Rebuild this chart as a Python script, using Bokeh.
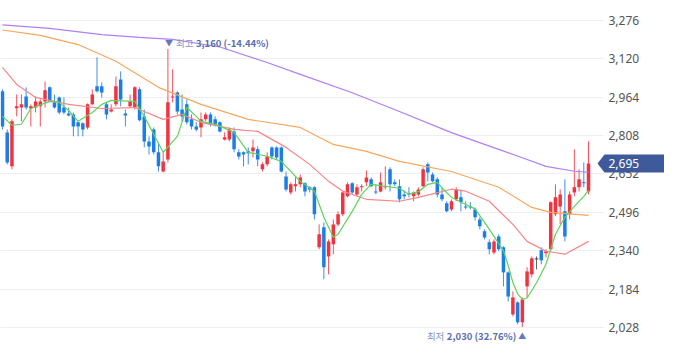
from bokeh.plotting import figure
from bokeh.models import (FixedTicker, NumeralTickFormatter, Label, PolyAnnotation, Range1d,
                          ColumnDataSource, BoxAnnotation)
from bokeh.embed import file_html
from bokeh.resources import INLINE

# ---- data ----
opens = [2988, 2821, 2683, 2919, 2922, 2967, 2918, 2922, 2927, 2947,
         3004, 2943, 2963, 2922, 2898, 2894, 2862, 2858, 2841, 2935,
         3008, 3008, 2935, 2906, 2935, 3036, 2898, 2927, 2922, 2996,
         2886, 2784, 2833, 2740, 2662, 2711, 2963, 2983, 2914, 2935,
         2874, 2845, 2841, 2874, 2894, 2874, 2862, 2792, 2792, 2825,
         2740, 2740, 2744, 2744, 2752, 2671, 2691, 2760, 2760, 2760,
         2642, 2577, 2602, 2610, 2614, 2598, 2598, 2354, 2435, 2317,
         2366, 2447, 2488, 2561, 2614, 2569, 2598, 2618, 2630, 2581,
         2581, 2598, 2671, 2618, 2602, 2569, 2573, 2561, 2569, 2602,
         2691, 2650, 2630, 2569, 2533, 2508, 2549, 2557, 2520, 2520,
         2508, 2467, 2419, 2374, 2333, 2398, 2354, 2252, 2081, 2130,
         2049, 2195, 2244, 2305, 2342, 2330, 2346, 2488, 2520, 2500,
         2488, 2577, 2598, 2618, 2581]
highs = [2996, 2833, 2874, 2975, 2975, 3004, 2935, 2967, 2955, 3028,
         3008, 2975, 2967, 2963, 2922, 2902, 2866, 2862, 2939, 2996,
         3126, 3024, 2943, 2935, 3048, 3069, 2914, 2975, 3008, 3004,
         2914, 2805, 2841, 2780, 2744, 3160, 3077, 2988, 2975, 2955,
         2894, 2862, 2902, 2902, 2902, 2886, 2866, 2821, 2841, 2841,
         2752, 2744, 2760, 2792, 2764, 2699, 2740, 2764, 2764, 2764,
         2662, 2618, 2642, 2650, 2618, 2602, 2602, 2447, 2455, 2386,
         2467, 2500, 2581, 2618, 2618, 2610, 2610, 2667, 2638, 2610,
         2658, 2683, 2679, 2630, 2630, 2585, 2598, 2581, 2598, 2679,
         2699, 2658, 2638, 2598, 2541, 2549, 2598, 2589, 2541, 2537,
         2516, 2476, 2427, 2386, 2386, 2407, 2358, 2256, 2175, 2134,
         2150, 2273, 2317, 2317, 2354, 2346, 2541, 2610, 2589, 2630,
         2581, 2752, 2671, 2699, 2784]
lows = [2833, 2691, 2671, 2886, 2866, 2914, 2845, 2902, 2845, 2922,
        2943, 2918, 2894, 2894, 2886, 2805, 2805, 2805, 2833, 2931,
        2983, 2963, 2874, 2902, 2927, 2927, 2845, 2922, 2914, 2866,
        2760, 2731, 2731, 2662, 2658, 2699, 2943, 2894, 2866, 2853,
        2833, 2825, 2801, 2866, 2845, 2845, 2821, 2788, 2784, 2740,
        2711, 2683, 2691, 2719, 2683, 2662, 2683, 2711, 2711, 2658,
        2581, 2569, 2581, 2598, 2561, 2577, 2467, 2346, 2224, 2244,
        2325, 2439, 2480, 2557, 2569, 2561, 2581, 2602, 2598, 2569,
        2577, 2589, 2581, 2602, 2537, 2549, 2557, 2541, 2561, 2598,
        2622, 2618, 2557, 2541, 2496, 2500, 2541, 2500, 2508, 2508,
        2463, 2427, 2386, 2325, 2325, 2338, 2195, 2134, 2073, 2041,
        2030, 2150, 2232, 2264, 2285, 2313, 2338, 2480, 2447, 2378,
        2467, 2561, 2581, 2598, 2569]
closes = [2845, 2699, 2866, 2927, 2935, 2922, 2927, 2947, 2947, 2992,
          2947, 2922, 2902, 2902, 2890, 2845, 2845, 2833, 2935, 2975,
          2988, 2983, 2894, 2914, 3008, 2955, 2890, 2947, 3004, 2870,
          2784, 2764, 2740, 2683, 2703, 2943, 2967, 2906, 2886, 2862,
          2845, 2833, 2874, 2894, 2853, 2853, 2825, 2801, 2833, 2752,
          2723, 2731, 2736, 2760, 2711, 2691, 2723, 2723, 2719, 2662,
          2589, 2610, 2610, 2638, 2581, 2589, 2488, 2407, 2273, 2378,
          2447, 2488, 2577, 2610, 2577, 2598, 2602, 2638, 2602, 2577,
          2618, 2602, 2610, 2610, 2549, 2561, 2569, 2577, 2589, 2671,
          2658, 2622, 2569, 2549, 2500, 2541, 2589, 2537, 2516, 2516,
          2476, 2439, 2394, 2346, 2378, 2346, 2252, 2154, 2150, 2049,
          2142, 2256, 2309, 2305, 2301, 2338, 2537, 2557, 2569, 2398,
          2569, 2598, 2630, 2614, 2695]

ma5_idx = [0, 2, 4, 6, 10, 12, 14, 16, 19, 21, 23, 28, 30, 34, 37, 39, 41, 42, 45, 49,
           52, 56, 59, 63, 66, 68, 70, 71, 74, 76, 78, 81, 84, 86, 88, 90, 92, 93, 95, 97,
           100, 102, 104, 106, 107, 108, 109, 110, 111, 113, 115, 117, 119, 121, 123, 124]
ma5_val = [2886, 2850, 2854, 2918, 2947, 2943, 2910, 2866, 2902, 2935, 2951, 2947, 2886, 2740,
           2805, 2922, 2886, 2866, 2854, 2821, 2740, 2724, 2703, 2622, 2582, 2476, 2395, 2407,
           2500, 2569, 2610, 2602, 2594, 2569, 2580, 2610, 2618, 2595, 2557, 2537, 2510, 2455,
           2398, 2340, 2280, 2210, 2165, 2142, 2148, 2210, 2285, 2407, 2476, 2520, 2561, 2585]
ma20_idx = [0, 3, 7, 14, 21, 28, 34, 38, 42, 49, 54, 60, 65, 69, 72, 77, 84, 88, 95, 98,
            103, 108, 111, 115, 119, 124]
ma20_val = [3085, 3016, 2963, 2935, 2918, 2922, 2874, 2894, 2862, 2833, 2825, 2760, 2691,
            2622, 2582, 2549, 2541, 2557, 2590, 2582, 2541, 2447, 2378, 2338, 2326, 2378]
ma60_idx = [0, 8, 16, 24, 33, 42, 52, 63, 70, 77, 84, 95, 105, 112, 116, 124]
ma60_val = [3237, 3215, 3178, 3110, 3004, 2935, 2874, 2841, 2772, 2744, 2703, 2662, 2598,
            2516, 2496, 2484]
ma120_idx = [0, 10, 21, 29, 36, 46, 56, 63, 74, 84, 95, 102, 105, 110, 115, 121, 124]
ma120_val = [3258, 3244, 3218, 3207, 3199, 3168, 3105, 3057, 2982, 2906, 2820, 2772, 2752,
             2718, 2683, 2663, 2659]

y_ticks = [2028, 2184, 2340, 2496, 2652, 2808, 2964, 3120, 3276]
max_label = "최고"
max_text = "3,160 (-14.44%)"
min_label = "최저"
min_text = "2,030 (32.76%)"

# ---- layout ----
W, H = 664, 342
PLOT_W = 603                 # width of the candle area inside the frame
PX = 4.726                   # px per candle slot
X0 = -0.423
X1 = X0 + W / PX
Y0, Y1 = 1967, 3357
ux = 1.0 / PX                # data units per px (x)
uy = (Y1 - Y0) / H           # data units per px (y)
XA = X0 + PLOT_W * ux        # right edge of candle area

RED = "#f2323f"
BLUE = "#1b7de6"
GRAY = "#444444"

p = figure(width=W, height=H, output_backend="svg", toolbar_location=None,
           x_range=Range1d(X0, X1), y_range=Range1d(Y0, Y1),
           x_axis_location=None, y_axis_location="right",
           min_border_left=0, min_border_top=0, min_border_bottom=0,
           min_border_right=0, background_fill_color="white",
           border_fill_color="white")
p.outline_line_color = None
p.xgrid.visible = False
p.ygrid.ticker = FixedTicker(ticks=y_ticks)
p.ygrid.grid_line_color = "#eeeff4"
p.ygrid.grid_line_width = 1

ax = p.yaxis[0]
ax.ticker = FixedTicker(ticks=y_ticks)
ax.formatter = NumeralTickFormatter(format="0,0")
ax.axis_line_color = None
ax.major_tick_line_color = None
ax.minor_tick_line_color = None
ax.major_tick_out = 0
ax.major_tick_in = 0
ax.major_label_standoff = -(W - PLOT_W - 5)
ax.major_label_text_font = "Noto Sans"
ax.major_label_text_font_size = "12px"
ax.major_label_text_color = "#555555"

# hide grid lines in the label column
p.add_layout(BoxAnnotation(left=XA, fill_color="white", fill_alpha=1.0, line_color=None,
                           level="underlay"))

# ---- candles ----
idx = list(range(len(opens)))
colors = [RED if c > o else (BLUE if c < o else GRAY) for o, c in zip(opens, closes)]
bots = [min(o, c) for o, c in zip(opens, closes)]
tops = [max(max(o, c), min(o, c) + uy) for o, c in zip(opens, closes)]
src = ColumnDataSource(dict(x=idx, h=highs, l=lows, top=tops, bot=bots, color=colors))
p.segment("x", "h", "x", "l", source=src, line_color="color", line_width=1, line_alpha=0.85)
p.vbar("x", 0.74, "top", "bot", source=src, fill_color="color", line_color=None)

# ---- moving averages ----
p.line(ma120_idx, ma120_val, line_color="#b17ef3", line_width=1.2)
p.line(ma60_idx, ma60_val, line_color="#f8a75e", line_width=1.2)
p.line(ma20_idx, ma20_val, line_color="#f68787", line_width=1.2)
p.line(ma5_idx, ma5_val, line_color="#5fd35a", line_width=1.2)

# ---- max / min annotations ----
imax = highs.index(max(highs))
imin = lows.index(min(lows))
LIGHT = "#8796c6"
DARK = "#5b6ead"
KF = "Noto Sans CJK KR"

p.add_layout(Label(x=imax, y=highs[imax], x_offset=1, y_offset=6, text="▼",
                   text_align="center", text_baseline="middle", text_font_size="8px",
                   text_color="#6479bd", text_font=KF))
p.add_layout(Label(x=imax, y=highs[imax], x_offset=8, y_offset=6, text=max_label,
                   text_align="left", text_baseline="middle", text_font_size="9.5px",
                   text_color=LIGHT, text_font=KF))
p.add_layout(Label(x=imax, y=highs[imax], x_offset=28, y_offset=6, text=max_text,
                   text_align="left", text_baseline="middle", text_font_size="9.5px",
                   text_font_style="bold", text_color=DARK, text_font=KF))

p.add_layout(Label(x=imin, y=lows[imin], x_offset=0, y_offset=-9, text="▲",
                   text_align="center", text_baseline="middle", text_font_size="8px",
                   text_color="#6479bd", text_font=KF))
p.add_layout(Label(x=imin, y=lows[imin], x_offset=-6, y_offset=-9, text=min_text,
                   text_align="right", text_baseline="middle", text_font_size="9.5px",
                   text_font_style="bold", text_color=DARK, text_font=KF))
p.add_layout(Label(x=imin, y=lows[imin], x_offset=-78, y_offset=-9, text=min_label,
                   text_align="right", text_baseline="middle", text_font_size="9.5px",
                   text_color=LIGHT, text_font=KF))

# ---- last price tag ----
last = closes[-1]
TAG = "#3f5a9b"
half = 9 * uy
tag = PolyAnnotation(xs=[XA - 6 * ux, XA + 1 * ux, X1 + 5 * ux, X1 + 5 * ux, XA + 1 * ux],
                     ys=[last, last + half, last + half, last - half, last - half],
                     fill_color=TAG, fill_alpha=1.0, line_color=None, level="overlay")
p.add_layout(tag)
p.add_layout(Label(x=XA, y=last, x_offset=5, text=f"{last:,}", text_align="left",
                   text_baseline="middle", text_font_size="12px", text_color="white",
                   text_font="Noto Sans", level="overlay"))

open("out.html", "w").write(file_html(p, INLINE))
